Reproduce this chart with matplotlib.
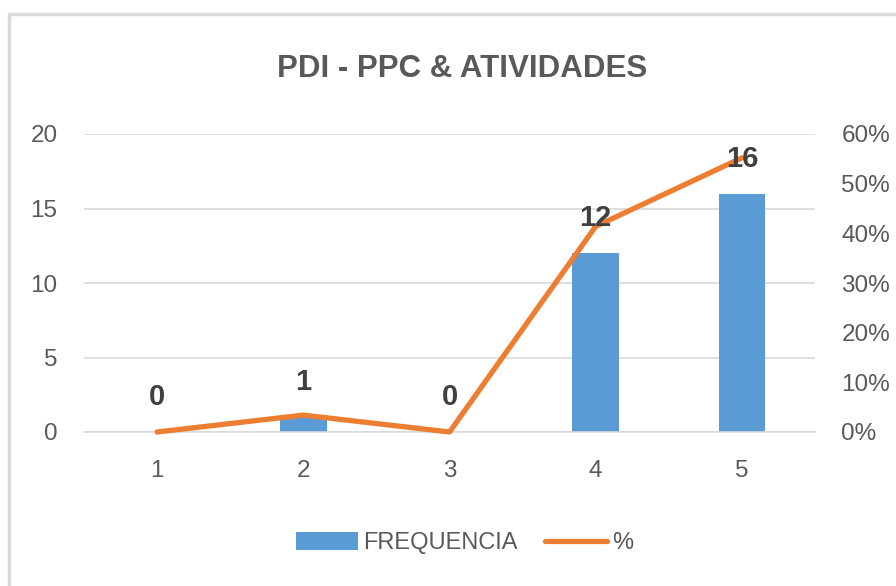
import matplotlib
matplotlib.use("Agg")
import matplotlib.pyplot as plt
from matplotlib.patches import Patch, Rectangle
from matplotlib.lines import Line2D
from matplotlib.ticker import FuncFormatter

categories = [1, 2, 3, 4, 5]
frequencia = [0, 1, 0, 12, 16]
percent = [0.0, 3.4, 0.0, 41.4, 55.2]
left_ticks = [0, 5, 10, 15, 20]
right_ticks = [0, 10, 20, 30, 40, 50, 60]
title = "PDI - PPC & ATIVIDADES"
legend_labels = ["FREQUENCIA", "%"]

FONT = ["Liberation Sans", "DejaVu Sans"]
plt.rcParams["font.family"] = FONT

BAR = "#5B9BD5"
LINE = "#ED7D31"
TXT = "#595959"
GRID = "#D9D9D9"

W, H = 896, 586
fig = plt.figure(figsize=(W / 100, H / 100), dpi=100)
fig.patch.set_facecolor("white")

# chart-area border (extends beyond the right/bottom edges)
fig.patches.append(Rectangle((9 / W, -0.2), 1.2, 1 - 14 / H + 0.2,
                             transform=fig.transFigure, fill=False,
                             edgecolor=GRID, linewidth=2.5, zorder=0))

ax = fig.add_axes([84 / W, 1 - 432 / H, (815 - 84) / W, (432 - 134) / H])
ax2 = ax.twinx()

ax.bar(categories, frequencia, width=0.32, color=BAR, zorder=2)
ax.set_xlim(0.5, 5.5)
ax.set_ylim(0, 20)
ax.set_yticks(left_ticks)
ax.set_xticks(categories)
ax.yaxis.grid(True, color=GRID, linewidth=1.2, zorder=0)
ax.set_axisbelow(True)
for s in ["top", "right", "left"]:
    ax.spines[s].set_visible(False)
ax.spines["bottom"].set_color(GRID)
ax.spines["bottom"].set_linewidth(1.2)
ax.tick_params(axis="both", length=0, labelsize=17.5, labelcolor=TXT)
ax.tick_params(axis="y", pad=19)
ax.tick_params(axis="x", pad=20)

ax2.plot(categories, percent, color=LINE, linewidth=3.8,
         solid_capstyle="round", solid_joinstyle="round", clip_on=False, zorder=3)
ax2.set_ylim(0, 60)
ax2.set_yticks(right_ticks)
ax2.yaxis.set_major_formatter(FuncFormatter(lambda v, p: f"{int(v)}%"))
for s in ["top", "right", "left", "bottom"]:
    ax2.spines[s].set_visible(False)
ax2.tick_params(axis="y", length=0, labelsize=17.5, labelcolor=TXT, pad=19)

for x, v in zip(categories, frequencia):
    ax2.annotate(str(v), xy=(x, v), xycoords=ax.transData,
                 xytext=(0, 25), textcoords="offset points",
                 ha="center", va="center", fontsize=21, fontweight="bold",
                 color="#404040", zorder=5)

fig.text(462 / W, 1 - 77 / H, title, ha="center", va="baseline",
         fontsize=22.5, fontweight="bold", color=TXT)

handles = [Patch(facecolor=BAR, edgecolor="none"),
           Line2D([0], [0], color=LINE, linewidth=3.8, solid_capstyle="round")]
leg = fig.legend(handles, legend_labels, loc="center",
                 bbox_to_anchor=(465 / W, 1 - 543 / H), ncol=2, frameon=False,
                 fontsize=17, handlelength=2.6, handleheight=0.8,
                 handletextpad=0.25, columnspacing=1.15)
for t in leg.get_texts():
    t.set_color(TXT)

fig.savefig("out.png", dpi=100)
